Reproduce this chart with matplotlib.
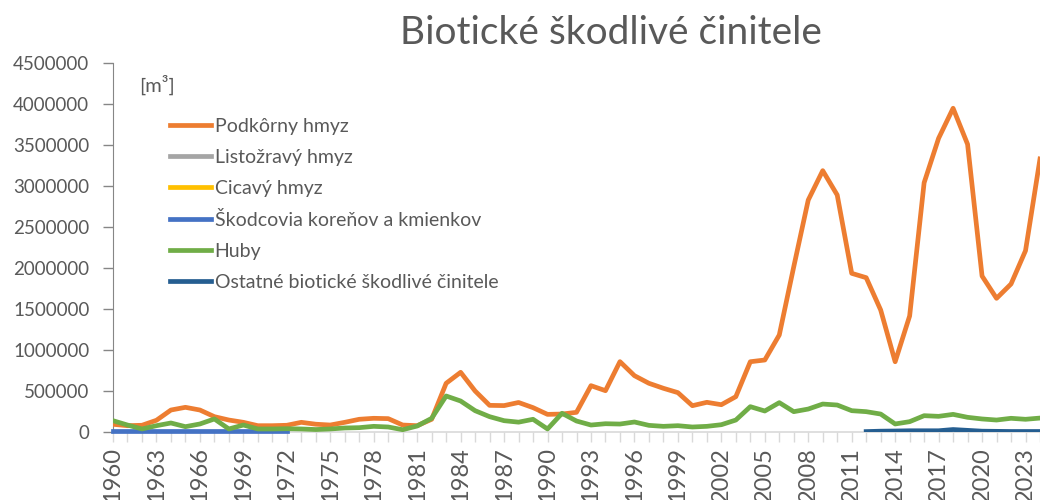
import matplotlib
matplotlib.use('Agg')
import matplotlib.pyplot as plt
import numpy as np

plt.rcParams['font.family'] = ['Lato', 'DejaVu Sans']

# roky 1960 - 2024
years = list(range(1960, 2025))

# Podkôrny hmyz [m3]
podkorny = [94000, 77000, 82000, 143000, 268000, 301000, 268000, 187000, 146000, 118000,
            77000, 77000, 82000, 118000, 95000, 85000, 118000, 155000, 167000, 163000,
            85000, 77000, 155000, 594000, 728000, 500000, 325000, 322000, 360000, 297000,
            215000, 219000, 240000, 565000, 504000, 858000, 687000, 594000, 533000, 480000,
            321000, 362000, 333000, 431000, 857000, 878000, 1183000, 2016000, 2829000, 3187000,
            2890000, 1935000, 1882000, 1488000, 857000, 1415000, 3040000, 3582000, 3948000, 3509000,
            1902000, 1630000, 1805000, 2211000, 3330000]

# Huby [m3]
huby = [138000, 85000, 37000, 77000, 110000, 65000, 98000, 159000, 37000, 85000,
        37000, 37000, 40000, 37000, 30000, 37000, 49000, 53000, 69000, 61000,
        28000, 73000, 167000, 439000, 378000, 260000, 187000, 138000, 120000, 155000,
        37000, 228000, 134000, 85000, 101000, 97000, 122000, 81000, 69000, 77000,
        61000, 69000, 89000, 146000, 309000, 256000, 358000, 248000, 280000, 341000,
        329000, 260000, 248000, 219000, 98000, 126000, 199000, 191000, 215000, 179000,
        159000, 146000, 167000, 155000, 170000]

# Škodcovia koreňov a kmienkov (1960 - 1972)
skodcovia_years = list(range(1960, 1973))
skodcovia = [8000] * 13

# Ostatné biotické škodlivé činitele (2012 - 2024)
ostatne_years = list(range(2012, 2025))
ostatne = [5000, 10000, 12000, 15000, 15000, 15000, 30000, 20000, 10000, 8000, 6000, 6000, 6000]

colors = {'Podkôrny hmyz': '#ED7D31',
          'Listožravý hmyz': '#A5A5A5',
          'Cicavý hmyz': '#FFC000',
          'Škodcovia koreňov a kmienkov': '#4472C4',
          'Huby': '#70AD47',
          'Ostatné biotické škodlivé činitele': '#255E91'}

txt = '#595959'
lw = 3.4

fig = plt.figure(figsize=(10.4, 5), dpi=100)
left = 113 / 1040
ax = fig.add_axes([left, 68 / 500, 1 - left, (432 - 63) / 500])

ax.plot(years, podkorny, color=colors['Podkôrny hmyz'], lw=lw, label='Podkôrny hmyz', zorder=3)
ax.plot([], [], color=colors['Listožravý hmyz'], lw=lw, label='Listožravý hmyz')
ax.plot([], [], color=colors['Cicavý hmyz'], lw=lw, label='Cicavý hmyz')
ax.plot(skodcovia_years, skodcovia, color=colors['Škodcovia koreňov a kmienkov'], lw=lw,
        label='Škodcovia koreňov a kmienkov', zorder=3, clip_on=False)
ax.plot(years, huby, color=colors['Huby'], lw=lw, label='Huby', zorder=4)
ax.plot(ostatne_years, ostatne, color=colors['Ostatné biotické škodlivé činitele'], lw=lw,
        label='Ostatné biotické škodlivé činitele', zorder=5)

ax.set_xlim(1960, 1960 + (1040 - 114) / 14.5)
ax.set_ylim(0, 4500000)
ax.set_yticks(np.arange(0, 4500001, 500000))
ax.set_yticklabels([str(v) for v in range(0, 4500001, 500000)])
ax.set_xticks(years)
ax.set_xticklabels([str(y) if (y - 1960) % 3 == 0 else '' for y in years], rotation=90)

for s in ['top', 'right']:
    ax.spines[s].set_visible(False)
ax.spines['left'].set_color('#868686')
ax.spines['bottom'].set_color('#D9D9D9')
ax.spines['bottom'].set_linewidth(1.2)
ax.tick_params(axis='y', colors='#868686', length=7, width=1, labelcolor=txt, labelsize=13.5, pad=10)
ax.tick_params(axis='x', colors='#D9D9D9', length=7, width=1, labelcolor=txt, labelsize=17, pad=4)
ax.set_facecolor('none')

fig.text(611 / 1040, 1 - 33 / 500, 'Biotické škodlivé činitele', ha='center', va='center',
         fontsize=28, color=txt)
fig.text(139 / 1040, 1 - 85 / 500, '[m³]', ha='left', va='center', fontsize=14.5, color=txt)

leg = ax.legend(loc='upper left', bbox_to_anchor=(170 / 1040, 1 - 118 / 500),
                bbox_transform=fig.transFigure, frameon=False, fontsize=14,
                handlelength=2.1, handletextpad=0.2, labelspacing=0.72, borderpad=0,
                borderaxespad=0)
for t in leg.get_texts():
    t.set_color(txt)

fig.savefig('out.png', dpi=100)
